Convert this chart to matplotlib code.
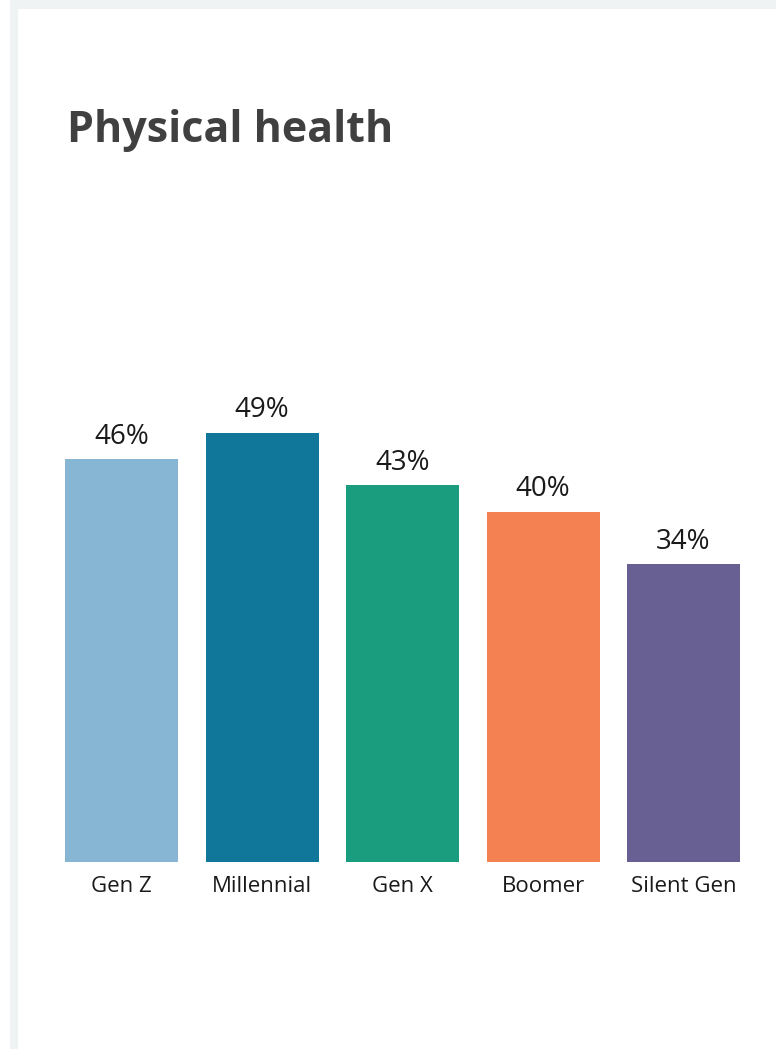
import matplotlib
matplotlib.use("Agg")
import matplotlib.pyplot as plt
from matplotlib.patches import Rectangle

categories = ["Gen Z", "Millennial", "Gen X", "Boomer", "Silent Gen"]
values = [46, 49, 43, 40, 34]
colors = ["#86b6d3", "#10779b", "#1a9c7f", "#f48152", "#685f93"]
title = "Physical health"

W, H = 776, 1049
fig = plt.figure(figsize=(W / 100, H / 100), dpi=100)
fig.patch.set_facecolor("white")

# light panel edges along the left and top
edge = "#f0f3f4"
fig.add_artist(Rectangle((10 / W, 0), 8 / W, 1, transform=fig.transFigure,
                         facecolor=edge, edgecolor="none"))
fig.add_artist(Rectangle((10 / W, 1 - 9 / H), 1, 9 / H, transform=fig.transFigure,
                         facecolor=edge, edgecolor="none"))

# bar area: x from 65 to 740 px, baseline at 862 px
ymax = 60
px_per_unit = 8.76
ax_h = ymax * px_per_unit
ax = fig.add_axes([65 / W, (H - 862) / H, 675 / W, ax_h / H])
width = 113 / 140.5
x = range(len(categories))
bars = ax.bar(x, values, width=width, color=colors)
ax.set_xlim(-width / 2, len(categories) - 1 + width / 2)
ax.set_ylim(0, ymax)
for s in ax.spines.values():
    s.set_visible(False)
ax.set_yticks([])
ax.set_xticks(list(x))
ax.set_xticklabels(categories, fontsize=16, family="Open Sans", color="#1a1a1a")
ax.tick_params(axis="x", length=0, pad=10)
ax.set_facecolor("none")

for xi, v in zip(x, values):
    ax.annotate(f"{v}%", (xi, v), xytext=(0, 6), textcoords="offset points",
                ha="center", va="bottom", fontsize=20, family="Open Sans",
                color="#1a1a1a")

fig.text(67 / W, 1 - 142 / H, title, fontsize=31, fontweight="bold",
         family="Open Sans", color="#404040", ha="left", va="baseline")

fig.savefig("out.png", dpi=100)
